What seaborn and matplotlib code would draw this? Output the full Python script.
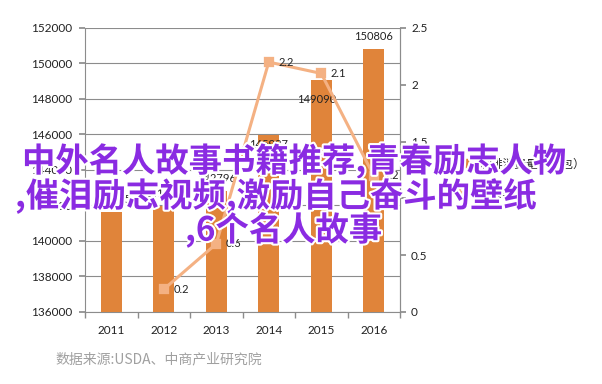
import numpy as np
import pandas as pd
import matplotlib
matplotlib.use('Agg')
import matplotlib.pyplot as plt
import matplotlib.patheffects as pe
from matplotlib.patches import Patch
from matplotlib.lines import Line2D
import seaborn as sns

# données
years = ['2011', '2012', '2013', '2014', '2015', '2016']
consumption = [141655, 141972, 142796, 145987, 149090, 150806]
growth = [np.nan, 0.2, 0.6, 2.2, 2.1, 1.2]

left_ticks = list(range(136000, 152001, 2000))
right_ticks = [0, 0.5, 1, 1.5, 2, 2.5]

legend_labels = ['咖啡消费量（千包）', '增长率(%)']
overlay_lines = ['中外名人故事书籍推荐,青春励志人物',
                 ',催泪励志视频,激励自己奋斗的壁纸',
                 ',6个名人故事']
source = '数据来源:USDA、中商产业研究院'

bar_color = '#E0843A'
line_color = '#F4B183'
grid_color = '#8c8c8c'
purple = '#8a2be2'

sns.set_theme(style='white')
plt.rcParams['font.family'] = ['Lato', 'Noto Sans CJK SC', 'DejaVu Sans']

df = pd.DataFrame({'year': years, 'consumption': consumption, 'growth': growth})

fig = plt.figure(figsize=(6.02, 3.84), dpi=100)
ax = fig.add_axes([85 / 602, 72 / 384, 315 / 602, 284 / 384])

sns.barplot(data=df, x='year', y='consumption', color=bar_color, width=0.4,
            saturation=1, ax=ax, linewidth=0, edgecolor='none')
for p in ax.patches:
    p.set_zorder(3)
ax.set_ylim(136000, 152000)
ax.set_yticks(left_ticks)
ax.set_yticklabels([str(t) for t in left_ticks])
ax.grid(axis='y', color=grid_color, lw=0.8, zorder=0)
ax.set_axisbelow(True)

# étiquettes des barres (2014 et 2015 déplacées comme sur l'original)
bar_offsets = [(0, 9), (0, 9), (0, 9), (0, -7), (-3, -14), (0, 9)]
for i, v in enumerate(consumption):
    ax.annotate(str(v), (i, v), xytext=bar_offsets[i], textcoords='offset points',
                ha='center', va='center', fontsize=8, color='#222222', zorder=5)

ax2 = ax.twinx()
sns.pointplot(data=df, x='year', y='growth', ax=ax2, color=line_color,
              markers='s', linestyles='-', errorbar=None,
              markersize=6, linewidth=2.2)
ax2.set_ylim(0, 2.5)
ax2.set_yticks(right_ticks)
ax2.set_yticklabels([f'{t:g}' for t in right_ticks])
ax2.grid(False)
for i, v in enumerate(growth):
    if not np.isnan(v):
        ax2.annotate(f'{v:g}', (i, v), xytext=(7, 0), textcoords='offset points',
                     ha='left', va='center', fontsize=8, color='#222222')

# axes
ax.set_xlim(-0.5, len(years) - 0.5)
ax.set_xticks(range(len(years)))
ax.set_xticklabels(years)
ax.set_xticks(np.arange(-0.5, len(years), 1), minor=True)
ax.set_xlabel('')
ax.set_ylabel('')
ax2.set_xlabel('')
ax2.set_ylabel('')
ax.tick_params(axis='x', which='major', length=0, pad=9, labelsize=8.5, labelcolor='#222222')
ax.tick_params(axis='x', which='minor', length=4, color=grid_color, direction='out', bottom=True)
ax.tick_params(axis='y', length=4, color=grid_color, direction='out', left=True, pad=5,
               labelsize=8.5, labelcolor='#222222')
ax2.tick_params(axis='y', length=4, color=grid_color, direction='out', right=True, pad=4,
                labelsize=8.5, labelcolor='#222222')

for s in ['left', 'bottom', 'right']:
    ax.spines[s].set_color(grid_color)
    ax.spines[s].set_linewidth(0.8)
ax.spines['top'].set_visible(False)
for s in ['left', 'bottom', 'top']:
    ax2.spines[s].set_visible(False)
ax2.spines['right'].set_color(grid_color)
ax2.spines['right'].set_linewidth(0.8)

# légende
handles = [Patch(color=bar_color),
           Line2D([0], [0], color=line_color, lw=2.2, marker='s', markersize=5)]
fig.legend(handles, legend_labels, loc='center left',
           bbox_to_anchor=(435 / 602, 1 - 178 / 384), frameon=False,
           fontsize=8.5, handlelength=2, labelspacing=1.4)

# source
fig.text(55 / 602, 1 - 359 / 384, source, color='#a0a0a0', fontsize=10,
         ha='left', va='center', family=['Noto Sans CJK SC', 'DejaVu Sans'])

# texte violet par-dessus
overlay_pos = [(22, 161), (15, 196), (185, 230)]
for txt, (x, y) in zip(overlay_lines, overlay_pos):
    fig.text(x / 602, 1 - y / 384, txt, fontsize=24, fontweight='bold', color=purple,
             ha='left', va='center', family=['Noto Sans CJK SC', 'DejaVu Sans'],
             zorder=10, path_effects=[pe.withStroke(linewidth=3, foreground='white')])

fig.savefig('out.png', dpi=100)
